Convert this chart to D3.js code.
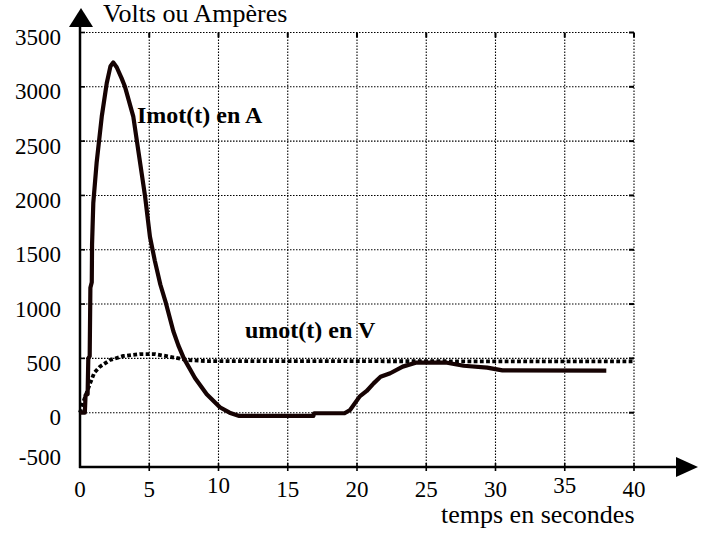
<!DOCTYPE html>
<html>
<head>
	<meta charset="utf-8">
	<title>Imot / umot</title>
	<script src="https://d3js.org/d3.v7.min.js"></script>
<style>
	body { margin: 0; background: #fff; }
	.grid line { stroke: #000; stroke-width: 1.1; stroke-dasharray: 1.5,1.5; }
</style>
</head>
<body>

<script>

// time (s) and motor current (A)
var tCurrent = [0, 0.35, 0.4, 0.55, 0.6, 0.7, 0.75, 0.85, 0.87, 0.96, 1.2, 1.57, 1.93, 2.2, 2.4, 2.65, 3.0, 3.25, 3.85, 4.2, 4.7, 5.05, 5.4, 5.8, 6.2, 6.74, 7.1, 7.5, 8.3, 9.15, 10.1, 10.8, 11.5, 16.85, 16.9, 19.1, 19.5, 20.2, 20.7, 21.2, 21.7, 22.4, 23.3, 24.3, 26.5, 27.7, 29.4, 30.5, 38];
var iMot = [0, 0, 160, 170, 500, 520, 1150, 1200, 1550, 1930, 2300, 2725, 3033, 3190, 3225, 3180, 3080, 3000, 2725, 2420, 1990, 1620, 1400, 1180, 1010, 750, 620, 500, 320, 170, 50, 0, -30, -30, -5, -5, 25, 150, 200, 270, 330, 363, 424, 462, 460, 432, 415, 390, 388];

// time (s) and motor voltage (V)
var tVoltage = [0, 0.3, 0.7, 1.03, 1.44, 2.17, 3.13, 4.33, 5.4, 6.5, 7.7, 9.15, 40];
var uMot = [0, 120, 260, 368, 424, 485, 522, 540, 540, 515, 485, 475, 472];

var xTicks = [0, 5, 10, 15, 20, 25, 30, 35, 40];
var yTicks = [-500, 0, 500, 1000, 1500, 2000, 2500, 3000, 3500];

var width = 705,
    height = 535,
    serif = "'Liberation Serif', 'Times New Roman', Times, 'DejaVu Serif', serif";

var x = d3.scaleLinear().domain([0, 40]).range([80, 634]);
var y = d3.scaleLinear().domain([-500, 3500]).range([467, 32.5]);

var svg = d3.select("body").append("svg")
    .attr("width", width)
    .attr("height", height)
    .attr("font-family", serif);

// dotted grid
var grid = svg.append("g").attr("class", "grid");

grid.selectAll(".h")
    .data(yTicks.slice(1))
  .enter().append("line")
    .attr("x1", x(0)).attr("x2", x(40))
    .attr("y1", function(d) { return y(d); })
    .attr("y2", function(d) { return y(d); });

grid.selectAll(".v")
    .data(xTicks.slice(1))
  .enter().append("line")
    .attr("y1", y(-500)).attr("y2", y(3500))
    .attr("x1", function(d) { return x(d); })
    .attr("x2", function(d) { return x(d); });

// little solid ticks on the top and right border
svg.append("g").selectAll("line")
    .data(xTicks)
  .enter().append("line")
    .attr("x1", function(d) { return x(d); })
    .attr("x2", function(d) { return x(d); })
    .attr("y1", y(3500)).attr("y2", y(3500) + 5)
    .attr("stroke", "#000").attr("stroke-width", 2);

svg.append("g").selectAll("line")
    .data(yTicks.slice(1))
  .enter().append("line")
    .attr("x1", x(40) - 5).attr("x2", x(40))
    .attr("y1", function(d) { return y(d); })
    .attr("y2", function(d) { return y(d); })
    .attr("stroke", "#000").attr("stroke-width", 2);

// x ticks crossing the axis
svg.append("g").selectAll("line")
    .data(xTicks.slice(1))
  .enter().append("line")
    .attr("x1", function(d) { return x(d); })
    .attr("x2", function(d) { return x(d); })
    .attr("y1", y(-500) - 4).attr("y2", y(-500) + 4)
    .attr("stroke", "#000").attr("stroke-width", 1.6);

// y ticks, inward
svg.append("g").selectAll("line")
    .data(yTicks.slice(1))
  .enter().append("line")
    .attr("x1", x(0)).attr("x2", x(0) + 5)
    .attr("y1", function(d) { return y(d); })
    .attr("y2", function(d) { return y(d); })
    .attr("stroke", "#000").attr("stroke-width", 1.6);

// axes with arrows
svg.append("line")
    .attr("x1", x(0)).attr("x2", x(0))
    .attr("y1", y(-500) + 1).attr("y2", 26)
    .attr("stroke", "#000").attr("stroke-width", 2.5);

svg.append("path")
    .attr("d", "M" + (x(0) - 11) + ",27 L" + (x(0) + 1) + ",8 L" + (x(0) + 13) + ",27 Z")
    .attr("fill", "#000");

svg.append("line")
    .attr("x1", x(0) - 1).attr("x2", 678)
    .attr("y1", y(-500)).attr("y2", y(-500))
    .attr("stroke", "#000").attr("stroke-width", 2.5);

svg.append("path")
    .attr("d", "M676," + (y(-500) - 10) + " L698," + y(-500) + " L676," + (y(-500) + 10) + " Z")
    .attr("fill", "#000");

// tick labels
svg.append("g").selectAll("text")
    .data(yTicks)
  .enter().append("text")
    .attr("x", 61)
    .attr("y", function(d) { return d === -500 ? y(d) - 2 : y(d) + 12.5; })
    .attr("text-anchor", "end")
    .style("font-family", serif)
    .style("font-size", "23px")
    .text(function(d) { return d; });

svg.append("g").selectAll("text")
    .data(xTicks)
  .enter().append("text")
    .attr("x", function(d) { return x(d); })
    .attr("y", function(d) { return (d === 10 || d === 35) ? 493 : 496.5; })
    .attr("text-anchor", "middle")
    .style("font-family", serif)
    .style("font-size", "23px")
    .text(function(d) { return d; });

// axis titles
svg.append("text")
    .attr("x", 103).attr("y", 22)
    .style("font-family", serif)
    .style("font-size", "26px")
    .text("Volts ou Ampères");

svg.append("text")
    .attr("x", 441).attr("y", 523)
    .style("font-family", serif)
    .style("font-size", "26px")
    .text("temps en secondes");

// curves
var line = d3.line()
    .x(function(d) { return x(d[0]); })
    .y(function(d) { return y(d[1]); });

svg.append("path")
    .datum(d3.zip(tVoltage, uMot))
    .attr("d", line)
    .attr("fill", "none")
    .attr("stroke", "#000")
    .attr("stroke-width", 3.8)
    .attr("stroke-dasharray", "3.8,2.4");

svg.append("path")
    .datum(d3.zip(tCurrent, iMot))
    .attr("d", line)
    .attr("fill", "none")
    .attr("stroke", "#160303")
    .attr("stroke-width", 4.2)
    .attr("stroke-linejoin", "round");

// curve labels
svg.append("text")
    .attr("x", 137).attr("y", 122.5)
    .style("font-family", serif)
    .style("font-size", "24px").style("font-weight", "bold")
    .text("Imot(t) en A");

svg.append("text")
    .attr("x", 245).attr("y", 338)
    .style("font-family", serif)
    .style("font-size", "24px").style("font-weight", "bold")
    .text("umot(t) en V");

</script>

</body>
</html>
